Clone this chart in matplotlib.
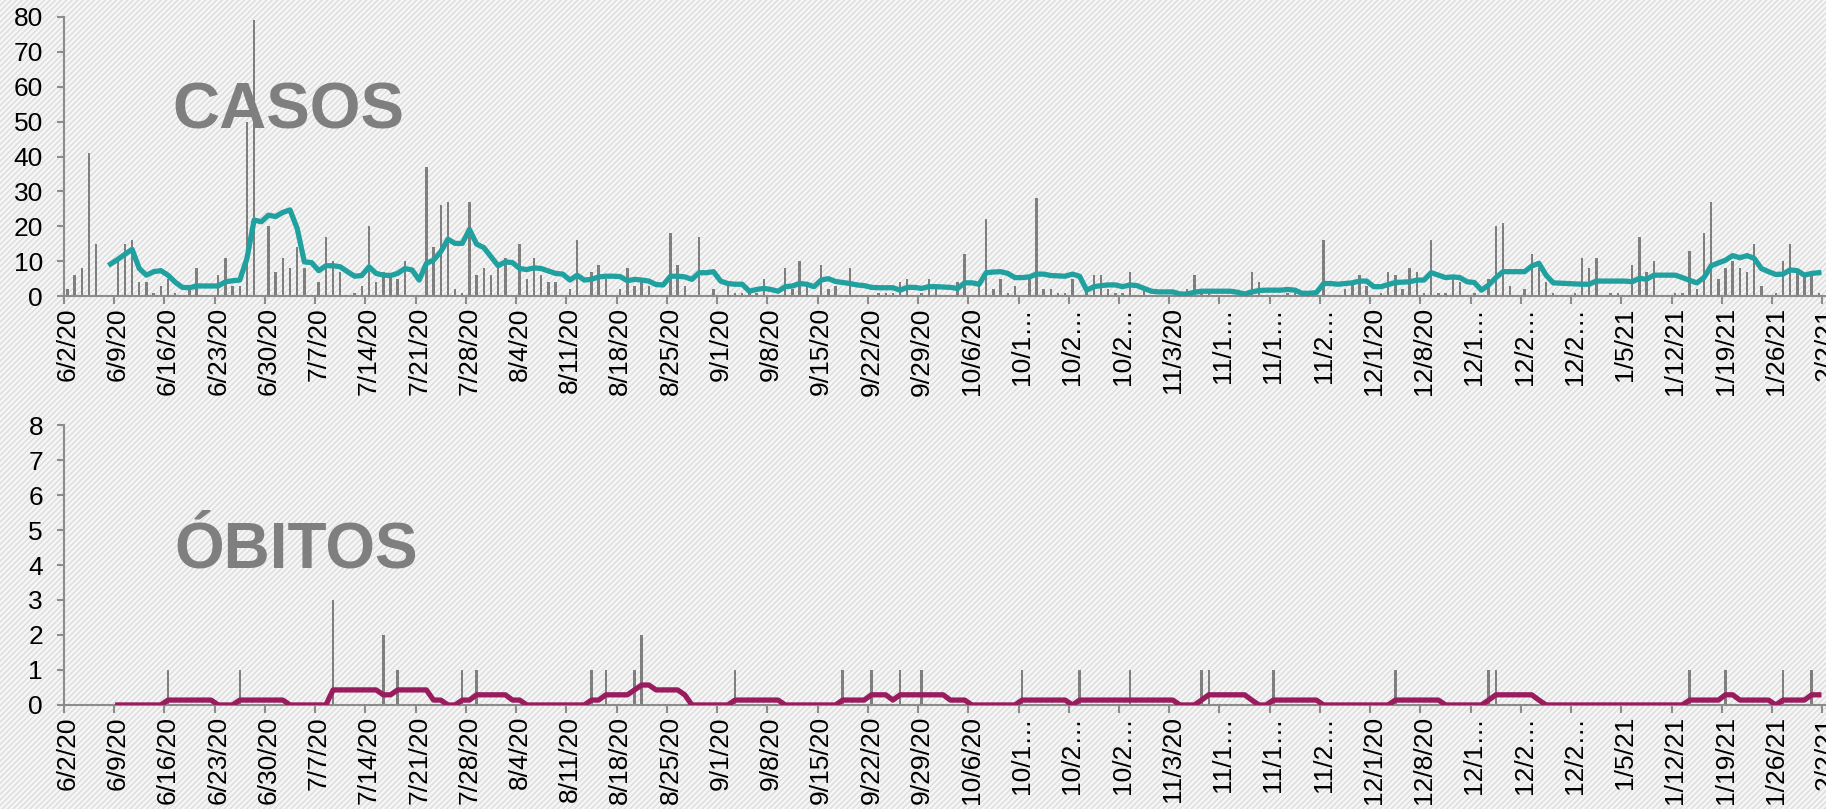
'''
    Casos e obitos diarios com media movel de 7 dias
    -- dois paineis empilhados, barras cinza + linha da media
'''
import numpy as np
import matplotlib
matplotlib.use('Agg')
import matplotlib.pyplot as plt
from matplotlib.patches import Rectangle

plt.rcParams['font.family'] = ['Liberation Sans', 'DejaVu Sans']
plt.rcParams['hatch.linewidth'] = 1.0

# daily cases, one value per day starting 6/2/20
casos = [
    2, 6, 8, 41, 15, 0, 0,
    10, 15, 16, 4, 4, 1, 3,
    5, 1, 0, 2, 8, 0, 0,
    6, 11, 3, 3, 50, 79, 0,
    20, 7, 11, 8, 14, 8, 0,
    4, 17, 10, 7, 0, 1, 3,
    20, 4, 7, 6, 5, 10, 0,
    0, 37, 14, 26, 27, 2, 1,
    27, 6, 8, 6, 9, 11, 0,
    15, 5, 11, 6, 4, 4, 0,
    2, 16, 0, 7, 9, 5, 0,
    2, 8, 3, 4, 3, 0, 0,
    18, 9, 3, 0, 17, 0, 2,
    0, 3, 1, 1, 1, 1, 5,
    0, 0, 8, 2, 10, 3, 0,
    9, 2, 3, 0, 8, 0, 0,
    0, 1, 1, 1, 4, 5, 0,
    1, 5, 2, 0, 0, 4, 12,
    0, 3, 22, 2, 5, 1, 3,
    0, 5, 28, 2, 2, 1, 1,
    5, 0, 2, 6, 6, 2, 1,
    1, 7, 0, 2, 0, 0, 0,
    0, 0, 2, 6, 1, 1, 0,
    0, 0, 0, 0, 7, 4, 0,
    0, 0, 1, 1, 0, 0, 0,
    16, 0, 0, 2, 4, 6, 3,
    0, 1, 7, 6, 2, 8, 7,
    1, 16, 1, 1, 5, 4, 0,
    1, 0, 5, 20, 21, 3, 0,
    2, 12, 8, 4, 1, 0, 0,
    1, 11, 8, 11, 0, 1, 1,
    0, 9, 17, 7, 10, 0, 0,
    1, 1, 13, 2, 18, 27, 5,
    8, 10, 8, 7, 15, 3, 0,
    1, 10, 15, 7, 6, 6, 1,
]

# 7-day average of cases, starting at day 6 (6/8/20)
casos_media_inicio = 6
casos_media = [
    9.2,
    10.5, 12.0, 13.4, 7.9, 6.0, 7.0, 7.3,
    6.0, 4.0, 2.5, 2.4, 2.9, 2.9, 2.9,
    2.9, 4.1, 4.4, 4.6, 10.8, 21.8, 21.3,
    23.2, 22.8, 24.0, 24.7, 19.4, 9.8, 9.6,
    7.3, 8.7, 8.7, 8.4, 7.0, 5.7, 5.9,
    8.4, 6.5, 6.0, 5.9, 6.5, 7.9, 7.5,
    4.6, 9.4, 10.3, 12.7, 16.3, 15.1, 15.1,
    19.1, 14.9, 13.9, 11.3, 8.7, 9.8, 9.6,
    7.9, 7.6, 8.1, 7.9, 7.2, 6.5, 6.3,
    4.6, 6.0, 4.6, 4.8, 5.5, 5.7, 5.7,
    5.6, 4.4, 4.8, 4.6, 4.3, 3.3, 3.2,
    5.7, 5.7, 5.5, 4.8, 6.7, 6.7, 7.0,
    4.3, 3.6, 3.4, 3.4, 1.4, 1.9, 2.2,
    1.9, 1.4, 2.7, 2.9, 3.6, 3.4, 2.7,
    4.6, 5.0, 4.2, 3.9, 3.6, 3.2, 3.0,
    2.5, 2.4, 2.4, 2.4, 1.7, 2.5, 2.5,
    2.2, 2.7, 2.7, 2.6, 2.5, 2.2, 3.8,
    3.8, 3.4, 6.7, 6.9, 7.0, 6.5, 5.3,
    5.3, 5.5, 6.3, 6.3, 5.9, 5.8, 5.7,
    6.3, 5.7, 1.7, 2.7, 3.0, 3.2, 3.2,
    2.7, 3.2, 3.0, 2.2, 1.4, 1.2, 1.2,
    1.2, 0.6, 0.6, 1.1, 1.4, 1.4, 1.4,
    1.4, 1.4, 1.1, 0.6, 1.2, 1.6, 1.7,
    1.7, 1.7, 1.9, 1.7, 0.8, 0.8, 1.0,
    3.6, 3.6, 3.4, 3.6, 3.8, 4.3, 4.3,
    2.7, 2.7, 3.3, 3.9, 4.0, 4.1, 4.6,
    4.6, 6.7, 6.0, 5.3, 5.5, 5.3, 4.1,
    3.9, 1.7, 3.2, 5.3, 7.0, 7.0, 7.0,
    7.0, 8.6, 9.4, 6.0, 3.8, 3.7, 3.6,
    3.5, 3.4, 3.4, 4.3, 4.3, 4.3, 4.3,
    4.3, 4.1, 5.1, 4.8, 6.0, 6.0, 6.0,
    6.0, 5.3, 4.5, 3.8, 5.3, 8.7, 9.5,
    10.3, 11.6, 11.0, 11.6, 10.8, 7.9, 7.0,
    6.2, 6.3, 7.5, 7.3, 6.0, 6.5, 6.7,
]

# deaths: only the days that had any (day index from 6/2/20)
obitos_dias = [14, 24, 37, 44, 46, 55, 57, 73, 75, 79, 80, 93, 108, 112, 116,
               119, 133, 141, 148, 158, 159, 168, 185, 198, 199, 226, 231,
               239, 243]
obitos_valores = [1, 1, 3, 2, 1, 1, 1, 1, 1, 1, 2, 1, 1, 1, 1,
                  1, 1, 1, 1, 1, 1, 1, 1, 1, 1, 1, 1,
                  1, 1]

# 7-day average of deaths, starting at day 7 (6/9/20)
obitos_media_inicio = 7
obitos_media = (
    [0.0] * 7 + [0.14] * 7 + [0.0] * 3 + [0.14] * 7 + [0.0] * 6
    + [0.43] * 7 + [0.29] * 2 + [0.43] * 5 + [0.14] * 2 + [0.0] * 2
    + [0.14] * 2 + [0.29] * 5 + [0.14] * 2 + [0.0] * 9 + [0.14] * 2
    + [0.29] * 4 + [0.43] + [0.57] * 2 + [0.43] * 4 + [0.29] + [0.0] * 6
    + [0.14] * 7 + [0.0] * 8 + [0.14] * 4 + [0.29] * 3 + [0.14]
    + [0.29] * 7 + [0.14] * 3 + [0.0] * 7 + [0.14] * 7 + [0.0]
    + [0.14] * 14 + [0.0] * 3 + [0.14] + [0.29] * 6 + [0.14] + [0.0] * 2
    + [0.14] * 7 + [0.0] * 10 + [0.14] * 7 + [0.0] * 6 + [0.14]
    + [0.29] * 6 + [0.14] + [0.0] * 20 + [0.14] * 5 + [0.29] * 2
    + [0.14] * 5 + [0.0] + [0.14] * 4 + [0.29] * 2
)

# weekly labels (Excel cuts the 8-character ones)
rotulos = ['6/2/20', '6/9/20', '6/16/20', '6/23/20', '6/30/20', '7/7/20',
           '7/14/20', '7/21/20', '7/28/20', '8/4/20', '8/11/20', '8/18/20',
           '8/25/20', '9/1/20', '9/8/20', '9/15/20', '9/22/20', '9/29/20',
           '10/6/20', '10/1…', '10/2…', '10/2…', '11/3/20', '11/1…',
           '11/1…', '11/2…', '12/1/20', '12/8/20', '12/1…', '12/2…',
           '12/2…', '1/5/21', '1/12/21', '1/19/21', '1/26/21', '2/2/21']

CINZA = '#7f7f7f'
EIXO = '#8c8c8c'
N_DIAS_VISIVEIS = 244.8


def style_axis(ax, ymax, ystep):
    ''' common look of both panels '''
    ax.set_facecolor('none')
    ax.set_xlim(0, N_DIAS_VISIVEIS)
    ax.set_ylim(0, ymax)
    ax.set_yticks(np.arange(0, ymax + ystep / 2, ystep))
    for side in ['top', 'right']:
        ax.spines[side].set_visible(False)
    for side in ['left', 'bottom']:
        ax.spines[side].set_color(EIXO)
        ax.spines[side].set_linewidth(1.5)

    # tick marks between weeks, labels on category centre
    _weeks = np.arange(len(rotulos)) * 7
    ax.set_xticks(_weeks, minor=True)
    ax.set_xticks(_weeks + 0.5)
    ax.set_xticklabels(rotulos, rotation=90, va='top', ha='center')
    ax.tick_params(axis='x', which='major', length=0, pad=8, labelsize=19)
    ax.tick_params(axis='x', which='minor', length=6, width=1.5, color=EIXO)
    ax.tick_params(axis='y', length=5, width=1.5, color=EIXO, pad=10,
                   labelsize=19)


fig = plt.figure(figsize=(18.26, 8.09), dpi=100)

# hatched background over the whole picture
fig.add_artist(Rectangle((0, 0), 1, 1, transform=fig.transFigure,
                         facecolor='#f6f6f6', edgecolor='#dcdcdc',
                         hatch='//////', linewidth=0, zorder=0))

ax1 = fig.add_axes([0.035, 0.634, 0.965, 0.345])
ax2 = fig.add_axes([0.035, 0.1286, 0.965, 0.346])

# top panel: cases
_x = np.arange(len(casos)) + 0.5
ax1.bar(_x, casos, width=0.34, color=CINZA, zorder=2)
_xm = np.arange(len(casos_media)) + casos_media_inicio + 0.5
ax1.plot(_xm, casos_media, color='#21a0a0', linewidth=3.8, zorder=3,
         solid_joinstyle='round')
style_axis(ax1, 80, 10)
ax1.text(15.1, 48.1, 'CASOS', fontsize=47, fontweight='bold', color=CINZA,
         ha='left', va='baseline', zorder=1)

# bottom panel: deaths
_obitos = np.zeros(len(casos))
_obitos[obitos_dias] = obitos_valores
ax2.bar(_x, _obitos, width=0.34, color=CINZA, zorder=2)
_xo = np.arange(len(obitos_media)) + obitos_media_inicio + 0.5
ax2.plot(_xo, obitos_media, color='#991c5e', linewidth=3.8, zorder=3,
         solid_joinstyle='round')
style_axis(ax2, 8, 1)
ax2.text(15.4, 3.94, 'ÓBITOS', fontsize=46, fontweight='bold', color=CINZA,
         ha='left', va='baseline', zorder=1)

fig.savefig('out.png', dpi=100)
